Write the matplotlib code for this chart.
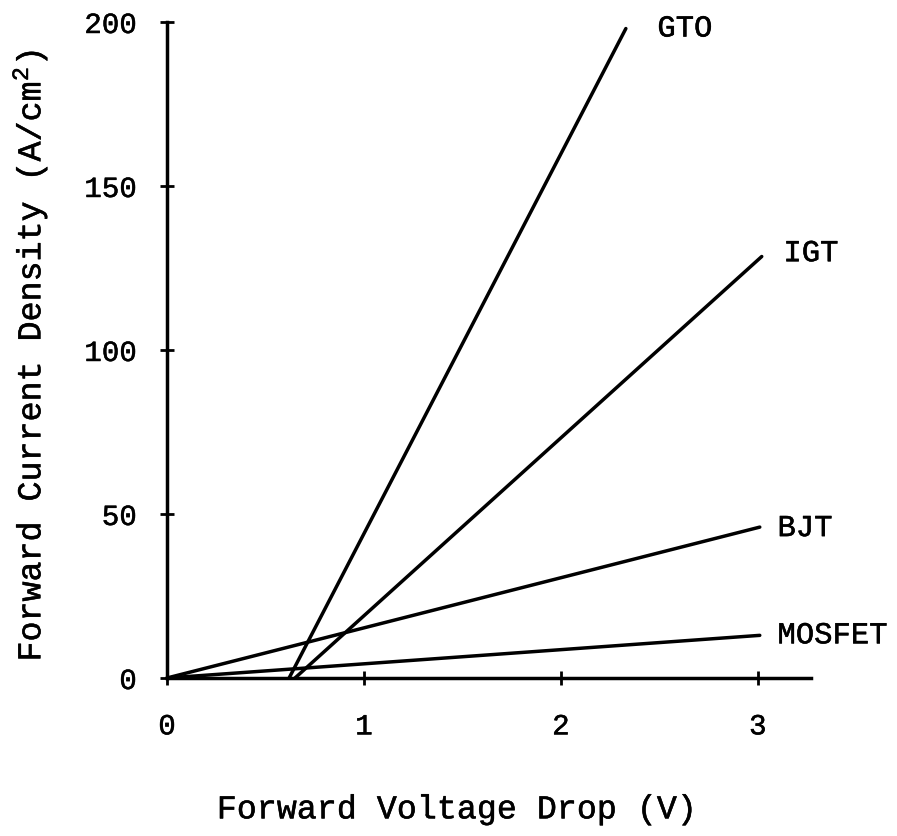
"""Forward current density vs forward voltage drop for power devices."""

import matplotlib
matplotlib.use("Agg")
import matplotlib.pyplot as plt
import matplotlib.patheffects as pe

plt.rcParams.update({
    "font.family": ["Liberation Mono", "DejaVu Sans Mono"],
    "mathtext.fontset": "custom",
    "mathtext.rm": "Liberation Mono",
    "mathtext.it": "Liberation Mono",
    "axes.spines.top": False,
    "axes.spines.right": False,
})

# device curves: (voltage, current density) end points
devices = ["GTO", "IGT", "BJT", "MOSFET"]
volts = [[0.62, 2.33], [0.65, 3.02], [0.0, 3.01], [0.0, 3.01]]
amps = [[0, 198], [0, 128.5], [0, 46], [0, 13]]
label_x = [2.49, 3.13, 3.10, 3.10]
label_y = [198, 129.5, 45.7, 13]

xticks = [0, 1, 2, 3]
yticks = [0, 50, 100, 150, 200]

# typewriter ink is a bit heavier than the plain font
ink = [pe.withStroke(linewidth=0.35, foreground="black")]

fig = plt.figure(figsize=(8.97, 8.36), dpi=100)
ax = fig.add_axes([0.1862, 0.189, 0.7179, 0.7847])

for name, xs, ys, tx, ty in zip(devices, volts, amps, label_x, label_y):
    ax.plot(xs, ys, color="black", lw=2.5, solid_capstyle="round", clip_on=False)
    ax.text(tx, ty, name, fontsize=22, ha="left", va="center", clip_on=False,
            path_effects=ink)

ax.set_xlim(0, 3.27)
ax.set_ylim(0, 200)
ax.set_xticks(xticks)
ax.set_yticks(yticks)
for s in ["left", "bottom"]:
    ax.spines[s].set_linewidth(2.5)
ax.tick_params(axis="both", direction="inout", length=9.5, width=2.0, labelsize=21)
ax.tick_params(axis="y", pad=17)
ax.tick_params(axis="x", pad=20)
for lab in ax.get_xticklabels() + ax.get_yticklabels():
    lab.set_path_effects(ink)

ax.set_xlabel("Forward Voltage Drop (V)", fontsize=24, va="center", path_effects=ink)
ax.xaxis.set_label_coords(0.45, -0.201)
ax.set_ylabel("Forward Current Density (A/cm$^2$)", fontsize=24, va="center",
              path_effects=ink)
ax.yaxis.set_label_coords(-0.213, 0.492)

fig.savefig("out.png", dpi=100, facecolor="white")
